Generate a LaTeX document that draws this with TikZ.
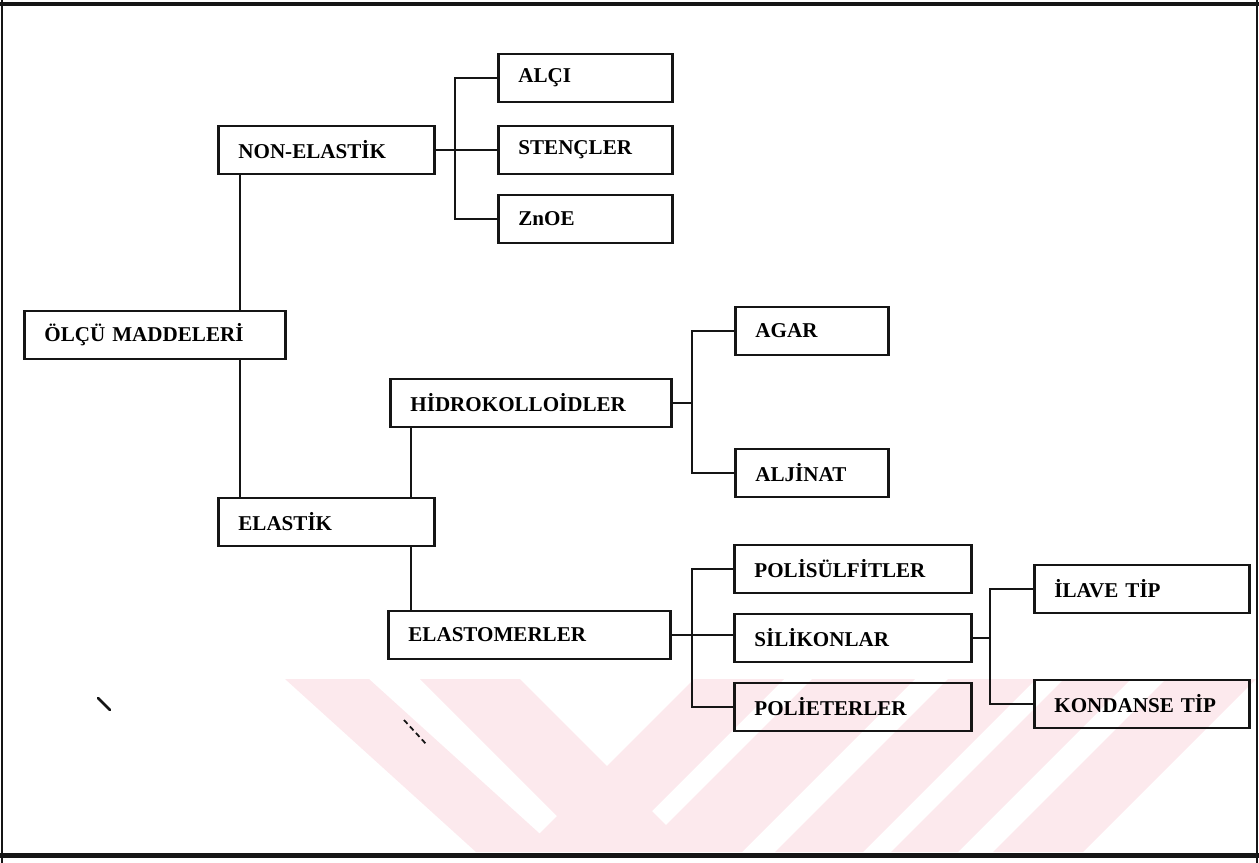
\documentclass[tikz,border=0pt]{standalone}
\usepackage{fontspec}
\setmainfont{Liberation Serif}
\usepackage{tikz}
\usetikzlibrary{calc,positioning}
\definecolor{ink}{HTML}{151515}
\definecolor{stamp}{HTML}{FCE9ED}

\begin{document}
\begin{tikzpicture}[x=0.02cm, y=-0.02cm,
  every node/.style={font=\fontsize{12}{14}\selectfont\bfseries, align=left, anchor=west, inner xsep=0.4cm, inner ysep=0pt, minimum height=0.96cm},
  box/.style={draw=ink, line width=1.6pt, text width=#1},
  link/.style={draw=ink, line width=1.2pt}]
\useasboundingbox (0,0) rectangle (1259,863);
% watermark stripes
\fill[stamp] (285,679) -- (369,679) -- (560,852) -- (476,852) -- cycle;
\fill[stamp] (420,679) -- (520,679) -- (693,852) -- (593,852) -- cycle;
\fill[stamp] (694,679) -- (784,679) -- (611,852) -- (521,852) -- cycle;
\fill[stamp] (812,679) -- (915,679) -- (742,852) -- (639,852) -- cycle;
\fill[stamp] (948,679) -- (1036,679) -- (863,852) -- (775,852) -- cycle;
\fill[stamp] (1064,679) -- (1131,679) -- (958,852) -- (891,852) -- cycle;
\fill[stamp] (1166,679) -- (1256,679) -- (1083,852) -- (993,852) -- cycle;
% frame
\draw[ink, line width=0.08cm] (0,4) -- (1259,4);
\draw[ink, line width=0.1cm] (0,855) -- (1259,855);
\draw[ink, line width=0.04cm] (2,0) -- (2,863);
\draw[ink, line width=0.04cm] (1257,0) -- (1257,863);
\node[box=4.42cm] (olcu) at (23,335) {ÖLÇÜ MADDELERİ};
\node[box=3.52cm] (nonel) at (217,150) {NON-ELASTİK};
\node[box=2.68cm] (alci) at (497,78) {ALÇI};
\node[box=2.68cm] (stenc) at (497,150) {STENÇLER};
\node[box=2.68cm] (znoe) at (497,219) {ZnOE};
\node[box=3.52cm] (elastik) at (217,522) {ELASTİK};
\node[box=4.82cm] (hidro) at (389,403) {HİDROKOLLOİDLER};
\node[box=2.26cm] (agar) at (734,331) {AGAR};
\node[box=2.26cm] (aljinat) at (734,473) {ALJİNAT};
\node[box=4.84cm] (elastomer) at (387,635) {ELASTOMERLER};
\node[box=3.94cm] (polis) at (733,569) {POLİSÜLFİTLER};
\node[box=3.94cm] (silik) at (733,638) {SİLİKONLAR};
\node[box=3.94cm] (polie) at (733,707) {POLİETERLER};
\node[box=3.50cm] (ilave) at (1033,589) {İLAVE TİP};
\node[box=3.50cm] (kond) at (1033,704) {KONDANSE TİP};
% tree lines
\draw[link] ([xshift=0.46cm]nonel.south west) -- ([xshift=0.46cm]nonel.south west |- olcu.north);
\draw[link] ([xshift=0.46cm]elastik.north west |- olcu.south) -- ([xshift=0.46cm]elastik.north west);
\draw[link] ([xshift=0.44cm]hidro.south west) -- ([xshift=0.44cm]hidro.south west |- elastik.north);
\draw[link] ([xshift=0.48cm]elastomer.north west |- elastik.south) -- ([xshift=0.48cm]elastomer.north west);
\draw[link] (alci.west) -- ++(-42,0) coordinate (nb) |- (znoe.west);
\draw[link] (nonel.east) -- (stenc.west);
\draw[link] (agar.west) -- ++(-42,0) coordinate (hb) |- (aljinat.west);
\draw[link] (hidro.east) -- (hidro.east -| hb);
\draw[link] (polis.west) -- ++(-41,0) coordinate (eb) |- (polie.west);
\draw[link] (elastomer.east) -- (elastomer.east -| silik.west);
\draw[link] (ilave.west) -- ++(-43,0) coordinate (sb) |- (kond.west);
\draw[link] (silik.east) -- (silik.east -| sb);
% specks
\draw[ink, line width=1.5pt, line cap=round] (98,698) -- (110,710);
\draw[ink, line width=1pt, dash pattern=on 3pt off 2pt] (404,720) -- (427,745);
\end{tikzpicture}
\end{document}
